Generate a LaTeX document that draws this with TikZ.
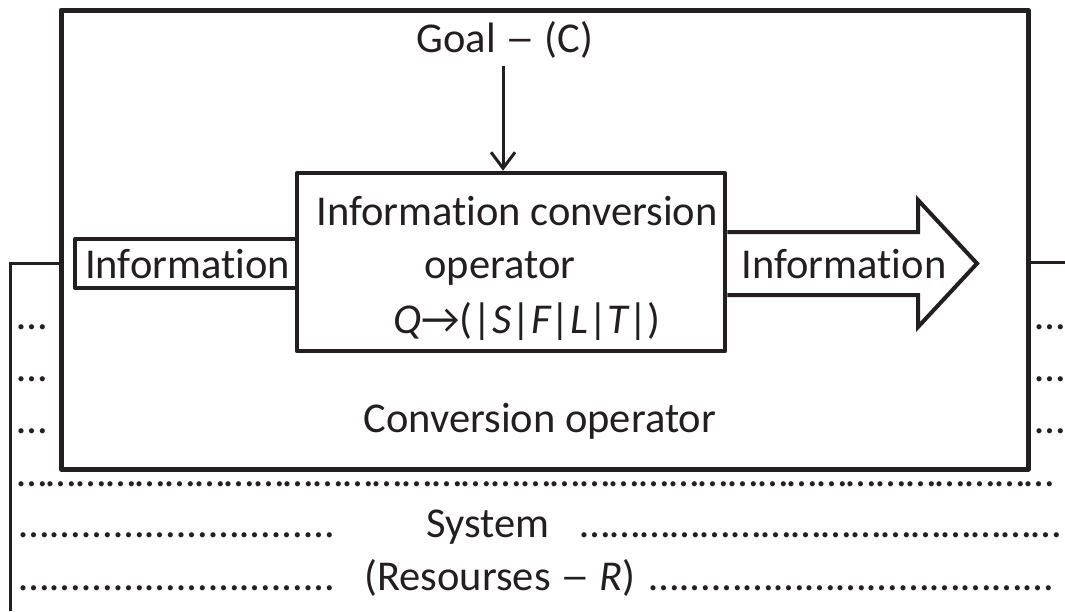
\documentclass[tikz,border=0pt]{standalone}
\usepackage{fontspec}
\usepackage{graphicx}
\setmainfont{Carlito}[Ligatures=NoCommon]
\usetikzlibrary{arrows.meta}
\definecolor{ink}{RGB}{35,31,32}
% a run of ellipsis glyphs filling a given width
\newcommand\dotrun[1]{\hbox to #1{\xleaders\hbox{…}\hfill}}
% a long dash between words
\newcommand\longdash{\scalebox{1.4}[1]{–}}
\tikzset{
  lbl/.style={inner sep=0pt, outer sep=0pt, text=ink, font=\fontsize{42.5}{50}\selectfont},
  frame/.style={draw=ink, line width=5pt, line join=round, inner sep=0pt},
  blk/.style={draw=ink, line width=4.5pt, line join=round, inner sep=0pt, fill=white},
  inbox/.style={draw=ink, line width=4pt, line join=round, inner sep=0pt, fill=white},
  wire/.style={draw=ink, line width=3pt},
  fat/.style={draw=ink, line width=4pt, line join=miter, fill=white},
}
\begin{document}
\begin{tikzpicture}[x=1pt,y=-1pt]
\useasboundingbox (0,0) rectangle (1065,611);

% conversion operator (outer block)
\node[frame, minimum width=967pt, minimum height=459pt] (outer) at (544.5,239.5) {};

% system boundary lines leaving the block
\coordinate (lk) at (10,263);
\coordinate (lb) at (10,611);
\coordinate (rr) at (1065,262);
\draw[wire] (outer.west |- lk) -- (lk) -- (lb);
\draw[wire] (outer.east |- rr) -- (rr);

% input information
\node[inbox, minimum width=222pt, minimum height=49pt] (inp) at (186,263.5) {};
\node[lbl, anchor=base] (inptxt) at (187.5,278) {Information};

% information conversion operator
\node[blk, minimum width=428pt, minimum height=178pt] (inner) at (511,262) {};
\node[lbl, anchor=base] (l1) at (517,225) {Information conversion};
\node[lbl, anchor=base] (l2) at (500,278) {operator};
\node[lbl, anchor=base] (l3) at (527,333) {\itshape Q\upshape→(|\itshape S\upshape|\itshape F\upshape|\itshape L\upshape|\itshape T\upshape|)};

% output information (block arrow)
\draw[fat] (inner.east |- 0,232) -- (918,232) -- (918,200) -- (977,263.5)
  -- (918,327) -- (918,295) -- (inner.east |- 0,295);
\node[lbl, anchor=base] (outtxt) at (844,278) {Information};

% goal
\node[lbl, anchor=base] (goal) at (505,52) {Goal \longdash{} (C)};
\coordinate (gtop) at (503,66);
\draw[wire, -{Straight Barb[length=16pt, width=24pt, line width=3pt]}] (gtop) -- (gtop |- inner.north);

\node[lbl, anchor=base] (conv) at (540,432) {Conversion operator};

% side ellipses
\foreach \y [count=\i] in {329.5,381.5,433.5} {
  \node[lbl, anchor=base west] (le\i) at (17,\y) {…};
  \node[lbl, anchor=base east] (re\i) at (1065,\y) {…};
}

% system and its resources
\node[lbl, anchor=base west] (r1) at (17,486) {\dotrun{1038pt}};
\node[lbl, anchor=base west] (r2a) at (17,537) {\dotrun{319pt}};
\node[lbl, anchor=base] (sys) at (488,537) {System};
\node[lbl, anchor=base west] (r2b) at (580,537) {\dotrun{482pt}};
\node[lbl, anchor=base west] (r3a) at (17,590) {\dotrun{319pt}};
\node[lbl, anchor=base] (res) at (500,590) {(Resourses \longdash{} \itshape R\upshape)};
\node[lbl, anchor=base west] (r3b) at (648,590) {\dotrun{407pt}};
\end{tikzpicture}
\end{document}
